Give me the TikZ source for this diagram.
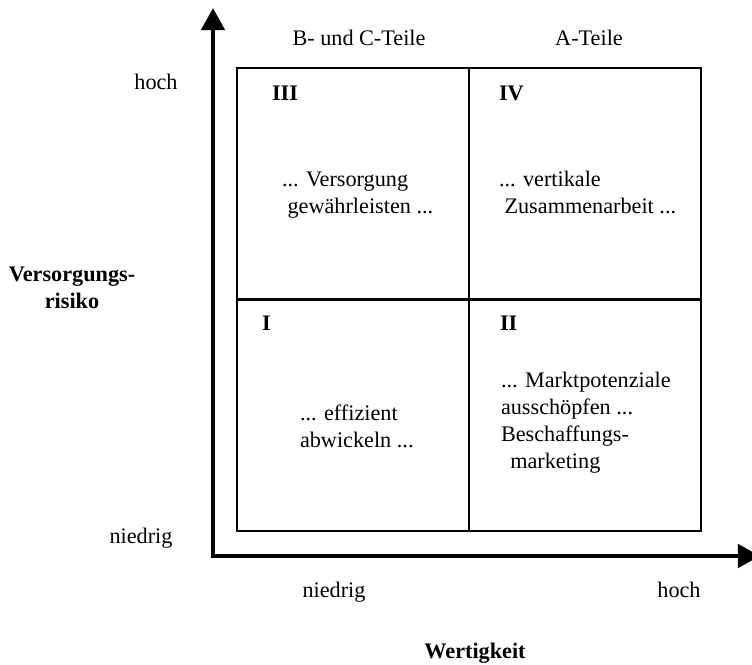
\documentclass[tikz,border=0pt]{standalone}
\usepackage{fontspec}
\setmainfont{Liberation Serif}
\usetikzlibrary{arrows.meta}
\begin{document}
\begin{tikzpicture}[x=0.54pt,y=-0.54pt,
  every node/.style={inner sep=0pt,outer sep=0pt,font=\fontsize{12}{14.5}\selectfont},
  axisline/.style={line width=2.5pt,line join=miter,
    {Triangle[length=11.9pt,width=12.4pt]}-{Triangle[length=11.9pt,width=12.4pt]}},
  gridline/.style={line width=1.5pt},
  lbl/.style={anchor=base},
  bold/.style={font=\fontsize{12}{14.5}\selectfont\bfseries},
  qnum/.style={anchor=base west,font=\fontsize{12}{14.5}\selectfont\bfseries},
  qtext/.style={anchor=base west,align=left}]
\useasboundingbox (0,0) rectangle (752,664);

% axes
\coordinate (ytop) at (213,8);
\coordinate (xend) at (760,556);
\draw[axisline] (ytop) |- (xend);

% portfolio grid
\coordinate (bl) at (237,531);
\coordinate (tr) at (701,68);
\coordinate (mid) at (469,299.5);
\draw[gridline] (bl) rectangle (tr);
\draw[gridline] (bl -| mid) -- (tr -| mid);
\draw[gridline] (bl |- mid) -- (tr |- mid);

% column headings
\node[lbl] (colBC) at (359,45) {B- und C-Teile};
\node[lbl] (colA) at (589,45) {A-Teile};

% vertical axis labels
\node[lbl] (yhigh) at (156,89) {hoch};
\node[lbl] (ylow) at (141,543) {niedrig};
\node[lbl,bold,align=center] (ytitle) at (72,308) {Versorgungs-\\risiko};

% horizontal axis labels
\node[lbl] (xlow) at (334,597) {niedrig};
\node[lbl] (xhigh) at (679,597) {hoch};
\node[lbl,bold] (xtitle) at (475,658) {Wertigkeit};

% quadrant numbers
\node[qnum] (n3) at (272,100) {III};
\node[qnum] (n4) at (499,100) {IV};
\node[qnum] (n1) at (262,330) {I};
\node[qnum] (n2) at (500,330) {II};

% quadrant strategies (base anchor = last line)
\node[qtext] (t3) at (282,213) {... Versorgung\\\hspace*{3pt}gewährleisten ...};
\node[qtext] (t4) at (499,213) {... vertikale\\\hspace*{3pt}Zusammenarbeit ...};
\node[qtext] (t1) at (300,447) {... effizient\\abwickeln ...};
\node[qtext] (t2) at (501,468) {... Marktpotenziale\\ausschöpfen ...\\Beschaffungs-\\\hspace*{5pt}marketing};
\end{tikzpicture}
\end{document}
